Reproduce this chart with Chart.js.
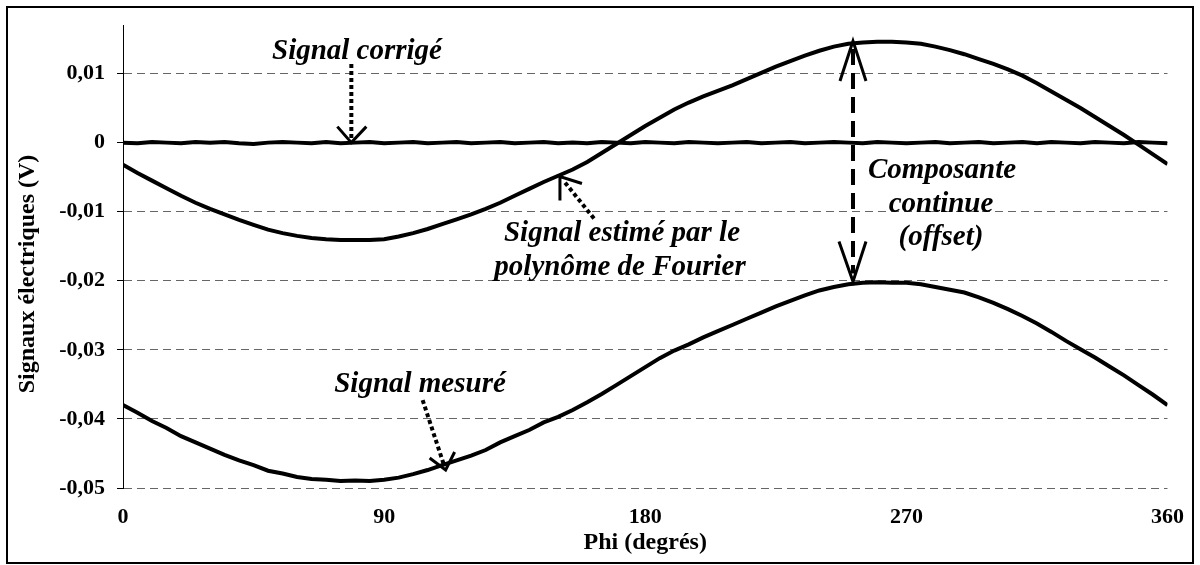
<!DOCTYPE html>
<html><head><meta charset="utf-8">
<script src="https://cdn.jsdelivr.net/npm/chart.js@4/dist/chart.umd.min.js"></script>
<style>html,body{margin:0;padding:0;background:#fff;} canvas{display:block;}</style>
</head><body>
<canvas id="c" width="1200" height="565"></canvas>
<script>
const phi = [0,5,10,15,20,25,30,35,40,45,50,55,60,65,70,75,80,85,90,95,100,105,110,115,120,125,130,135,140,145,150,155,160,165,170,175,180,185,190,195,200,205,210,215,220,225,230,235,240,245,250,255,260,265,270,275,280,285,290,295,300,305,310,315,320,325,330,335,340,345,350,355,360];

const signalEstime = [
 -0.0032,-0.0044,-0.0055,-0.0066,-0.0077,-0.0087,-0.0096,-0.0104,-0.0112,-0.0119,
 -0.0126,-0.0131,-0.0135,-0.0138,-0.0140,-0.0141,-0.0141,-0.0141,-0.0140,-0.0136,
 -0.0131,-0.0125,-0.0118,-0.0111,-0.0104,-0.0096,-0.0087,-0.0077,-0.0067,-0.0057,
 -0.0048,-0.0039,-0.0028,-0.0015,-0.0002,0.0011,0.0024,0.0036,0.0048,0.0058,
 0.0067,0.0075,0.0083,0.0092,0.0101,0.0110,0.0118,0.0126,0.0133,0.0139,
 0.0143,0.0145,0.0146,0.0146,0.0145,0.0143,0.0139,0.0134,0.0128,0.0121,
 0.0114,0.0106,0.0097,0.0086,0.0074,0.0062,0.0050,0.0037,0.0024,0.0011,
 -0.0003,-0.0017,-0.0031];

const signalMesure = [
 -0.0380,-0.0391,-0.0403,-0.0413,-0.0425,-0.0434,-0.0443,-0.0452,-0.0460,-0.0467,
 -0.0475,-0.0479,-0.0484,-0.0487,-0.0488,-0.0490,-0.0489,-0.0490,-0.0488,-0.0485,
 -0.0480,-0.0474,-0.0467,-0.0460,-0.0453,-0.0445,-0.0434,-0.0425,-0.0416,-0.0405,
 -0.0397,-0.0387,-0.0376,-0.0364,-0.0351,-0.0338,-0.0325,-0.0312,-0.0301,-0.0292,
 -0.0282,-0.0273,-0.0264,-0.0255,-0.0246,-0.0237,-0.0229,-0.0221,-0.0214,-0.0209,
 -0.0205,-0.0203,-0.0202,-0.0203,-0.0203,-0.0205,-0.0209,-0.0213,-0.0217,-0.0224,
 -0.0232,-0.0241,-0.0251,-0.0262,-0.0274,-0.0287,-0.0299,-0.0311,-0.0324,-0.0337,
 -0.0351,-0.0365,-0.0380];

const signalCorrige = [
 0.0000,-0.0001,0.0001,0.0000,-0.0001,0.0001,0.0000,0.0001,-0.0001,-0.0002,
 0.0000,0.0001,0.0000,-0.0001,0.0001,-0.0001,0.0000,0.0001,-0.0001,0.0000,
 0.0001,-0.0001,0.0000,0.0001,-0.0001,0.0000,0.0001,-0.0001,0.0000,0.0001,
 -0.0001,0.0000,-0.0001,0.0001,0.0000,-0.0001,0.0001,0.0000,-0.0001,0.0001,
 0.0000,-0.0001,0.0000,0.0001,-0.0001,0.0000,0.0001,-0.0001,0.0000,0.0001,
 0.0000,-0.0001,0.0001,0.0000,-0.0001,0.0000,0.0001,-0.0001,0.0000,0.0001,
 -0.0001,0.0000,0.0001,-0.0001,0.0001,0.0000,-0.0001,0.0001,0.0000,-0.0001,
 0.0001,0.0000,-0.0001];

const xTickValues = [0,90,180,270,360];
const yTickValues = [-0.05,-0.04,-0.03,-0.02,-0.01,0,0.01];
const xTitle = 'Phi (degrés)';
const yTitle = 'Signaux électriques (V)';

const pts = arr => phi.map((p,i) => ({x:p, y:arr[i]}));
const FONT = '"Liberation Serif", "Times New Roman", serif';
const tickFont = {family: FONT, size: 22, weight: 'bold'};

function line(ctx,x1,y1,x2,y2,w,dash){ctx.save();ctx.lineWidth=w;ctx.setLineDash(dash);ctx.beginPath();ctx.moveTo(x1,y1);ctx.lineTo(x2,y2);ctx.stroke();ctx.restore();}
function head(ctx,tx,ty,a1x,a1y,a2x,a2y,w){ctx.save();ctx.lineWidth=w;ctx.setLineDash([]);ctx.lineJoin='miter';ctx.beginPath();ctx.moveTo(tx+a1x,ty+a1y);ctx.lineTo(tx,ty);ctx.lineTo(tx+a2x,ty+a2y);ctx.stroke();ctx.restore();}

const decor = {
  id:'decor',
  beforeDraw(chart){
    const ctx = chart.ctx;
    ctx.save(); ctx.fillStyle='#fff'; ctx.fillRect(0,0,chart.width,chart.height);
    ctx.restore();
  },
  afterDraw(chart){
    const {ctx, scales:{x,y}} = chart;
    const px = v => x.getPixelForValue(v), py = v => y.getPixelForValue(v);
    ctx.save();
    ctx.strokeStyle='#000'; ctx.fillStyle='#000';
    // frame
    ctx.lineWidth=2; ctx.strokeRect(7,7,1186,556);
    // y title
    ctx.save();
    ctx.translate(28, 274); ctx.rotate(-Math.PI/2);
    ctx.font = 'bold 24px ' + FONT; ctx.textAlign='center'; ctx.textBaseline='middle';
    ctx.fillText(yTitle, 0, 0);
    ctx.restore();
    // annotations text
    ctx.font = 'italic bold 29px ' + FONT; ctx.textAlign='center'; ctx.textBaseline='alphabetic';
    ctx.fillText('Signal corrigé', 357, 59);
    ctx.fillText('Signal estimé par le', 622, 241);
    ctx.fillText('polynôme de Fourier', 620, 275);
    ctx.fillText('Composante', 942, 178);
    ctx.fillText('continue', 941, 212);
    ctx.fillText('(offset)', 941, 245);
    ctx.fillText('Signal mesuré', 420, 392);
    // arrow: signal corrigé
    let tx = px(78.7), ty = py(0);
    line(ctx, tx, 64, tx, ty-4, 4, [4,3]);
    head(ctx, tx, ty, -14, -16, 15, -16, 3);
    // arrow: signal estimé
    tx = px(150.6); ty = py(-0.0049);
    line(ctx, tx+34, ty+42, tx+5, ty+6, 4, [4,3]);
    head(ctx, tx, ty, 0, 24, 22, 7, 3);
    // arrow: offset (double, dashed)
    tx = px(251.6);
    const t1 = py(0.0147), t2 = py(-0.0201);
    line(ctx, tx, t1+8, tx, t2-8, 4, [16,8]);
    head(ctx, tx, t1, -13, 40, 13, 40, 3);
    head(ctx, tx, t2, -14, -40, 13, -40, 3);
    // arrow: signal mesuré
    tx = px(111.2); ty = py(-0.0474);
    line(ctx, tx-23, ty-70, tx-2, ty-6, 4, [4,3]);
    head(ctx, tx, ty, -16, -12, 9, -18, 3);
    ctx.restore();
  }
};

const ds = (label, arr) => ({label, data: pts(arr), borderColor:'#000', borderWidth:4, pointRadius:0, tension:0, fill:false});

new Chart(document.getElementById('c'), {
  type:'line',
  data:{ datasets:[ ds('Signal mesuré', signalMesure), ds('Signal estimé', signalEstime), ds('Signal corrigé', signalCorrige) ] },
  options:{
    responsive:false, animation:false, devicePixelRatio:1,
    layout:{padding:{left:0,right:26,top:25,bottom:0}},
    plugins:{legend:{display:false}, tooltip:{enabled:false}},
    scales:{
      x:{ type:'linear', min:0, max:360,
        afterBuildTicks: s => { s.ticks = xTickValues.map(v => ({value:v})); },
        afterFit: s => { s.height = 77; },
        grid:{display:false, drawTicks:false}, border:{display:false},
        ticks:{font:tickFont, color:'#000', padding:16, maxRotation:0, autoSkip:false},
        title:{display:true, text:xTitle, color:'#000', font:{family:FONT,size:24,weight:'bold'}, padding:{top:0,bottom:8}}
      },
      y:{ type:'linear', min:-0.05, max:0.017,
        afterBuildTicks: s => { s.ticks = yTickValues.map(v => ({value:v})); },
        afterFit: s => { s.width = 123; },
        grid:{color:'#666', lineWidth:1, tickColor:'#000', tickLength:6, tickBorderDash:[]},
        border:{display:true, color:'#000', width:1, dash:[8,5]},
        ticks:{font:tickFont, color:'#000', padding:12,
          callback: v => Math.abs(v) < 1e-9 ? '0' : v.toFixed(2).replace('.', ',')}
      }
    }
  },
  plugins:[decor]
});
</script>
</body></html>
